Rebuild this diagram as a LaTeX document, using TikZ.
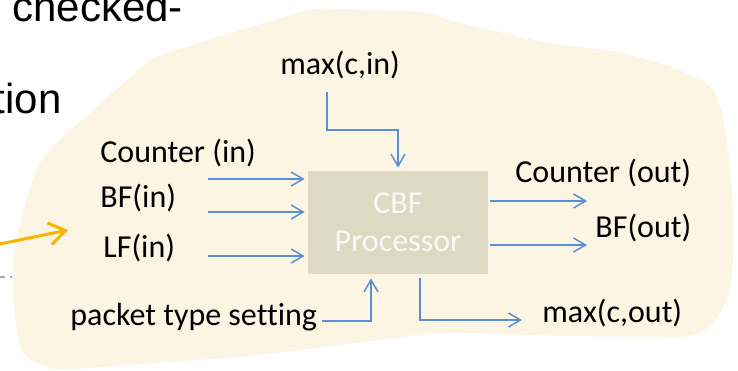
\documentclass[tikz,border=0pt]{standalone}
\usepackage{fontspec}
\setmainfont{Carlito}[Ligatures=NoCommon]
\newfontfamily\slidefont{Liberation Sans}
\usetikzlibrary{arrows.meta}
\definecolor{blob}{HTML}{FDF5E3}
\definecolor{procfill}{HTML}{DDD9C3}
\definecolor{wireblue}{HTML}{5A8FD5}
\definecolor{pointer}{HTML}{F7B500}
\definecolor{divider}{HTML}{8FAACB}

\begin{document}
\begin{tikzpicture}[x=0.5pt,y=-0.5pt,
    lbl/.style={anchor=west,inner sep=0pt,font=\fontsize{16}{18.5}\selectfont},
    feed/.style={draw=wireblue,line width=0.75pt,-{Straight Barb[length=6pt,width=7pt]}}]

      \useasboundingbox (0,0) rectangle (738,370);

      \fill[blob,rounded corners=6pt] (153,57) -- (313,8) -- (427,12) -- (447,20) -- (547,43) -- (620,52)
        -- (673,67) -- (712,85) -- (722,110) -- (728,150) -- (733,200) -- (733,270) -- (727,303)
        -- (710,327) -- (693,337) -- (560,336) -- (440,332) -- (340,345) -- (240,357) -- (60,370)
        -- (43,367) -- (20,353) -- (13,300) -- (13,253) -- (30,187) -- (40,160) -- (67,133) -- cycle;

      \node[anchor=base west,inner sep=0pt,font=\slidefont\fontsize{21}{25}\selectfont] (chk) at (12,21) {checked-};
      \node[anchor=base east,inner sep=0pt,font=\slidefont\fontsize{21}{25}\selectfont] (tion) at (62,113) {tion};

      \node[fill=procfill,minimum width=90pt,minimum height=51.5pt,inner sep=0pt,align=center,
        text=white!85!procfill,font=\fontsize{16}{19}\selectfont] (proc) at (398,222.5) {CBF\\Processor};

      \node[lbl] (maxin) at (280,65) {max(c,in)};
      \node[lbl] (cntin) at (100,153) {Counter (in)};
      \node[lbl] (bfin) at (100,198) {BF(in)};
      \node[lbl] (lfin) at (103,248) {LF(in)};
      \node[lbl] (pkt) at (70,317) {packet type setting};
      \node[lbl] (cntout) at (515,173) {Counter (out)};
      \node[lbl] (bfout) at (595,228) {BF(out)};
      \node[lbl] (maxout) at (542,313) {max(c,out)};

      \coordinate (cntinA) at (208,179);
      \coordinate (bfinA) at (208,212);
      \coordinate (lfinA) at (208,256);
      \coordinate (maxinA) at (327,92);
      \coordinate (pktA) at (322,321);
      \coordinate (cntoutB) at (587,201);
      \coordinate (bfoutB) at (587,245);
      \coordinate (maxoutB) at (522,320);

      \draw[feed,shorten >=1.5pt] (cntinA) -- (cntinA -| proc.west);
      \draw[feed,shorten >=1.5pt] (bfinA) -- (bfinA -| proc.west);
      \draw[feed,shorten >=1.5pt] (lfinA) -- (lfinA -| proc.west);
      \draw[feed,shorten >=1.5pt] (maxinA) -- ++(0,38) -| (proc.north);
      \draw[feed,shorten >=2pt] (pktA) -| ([xshift=-13.5pt]proc.south);
      \draw[feed,shorten <=1pt] (cntoutB -| proc.east) -- (cntoutB);
      \draw[feed,shorten <=1pt] (bfoutB -| proc.east) -- (bfoutB);
      \draw[feed,shorten <=2pt] ([xshift=11pt]proc.south) |- (maxoutB);

      \coordinate (ptrA) at (-10,246);
      \coordinate (ptrB) at (68,230);
      \draw[pointer,line width=1.5pt,-{Straight Barb[length=8pt,width=11pt]}] (ptrA) -- (ptrB);

      \coordinate (divA) at (-20,277);
      \coordinate (divB) at (12,277);
      \draw[divider,line width=0.6pt,dash pattern=on 2.5pt off 2.5pt] (divA) -- (divB);

    \end{tikzpicture}
\end{document}
